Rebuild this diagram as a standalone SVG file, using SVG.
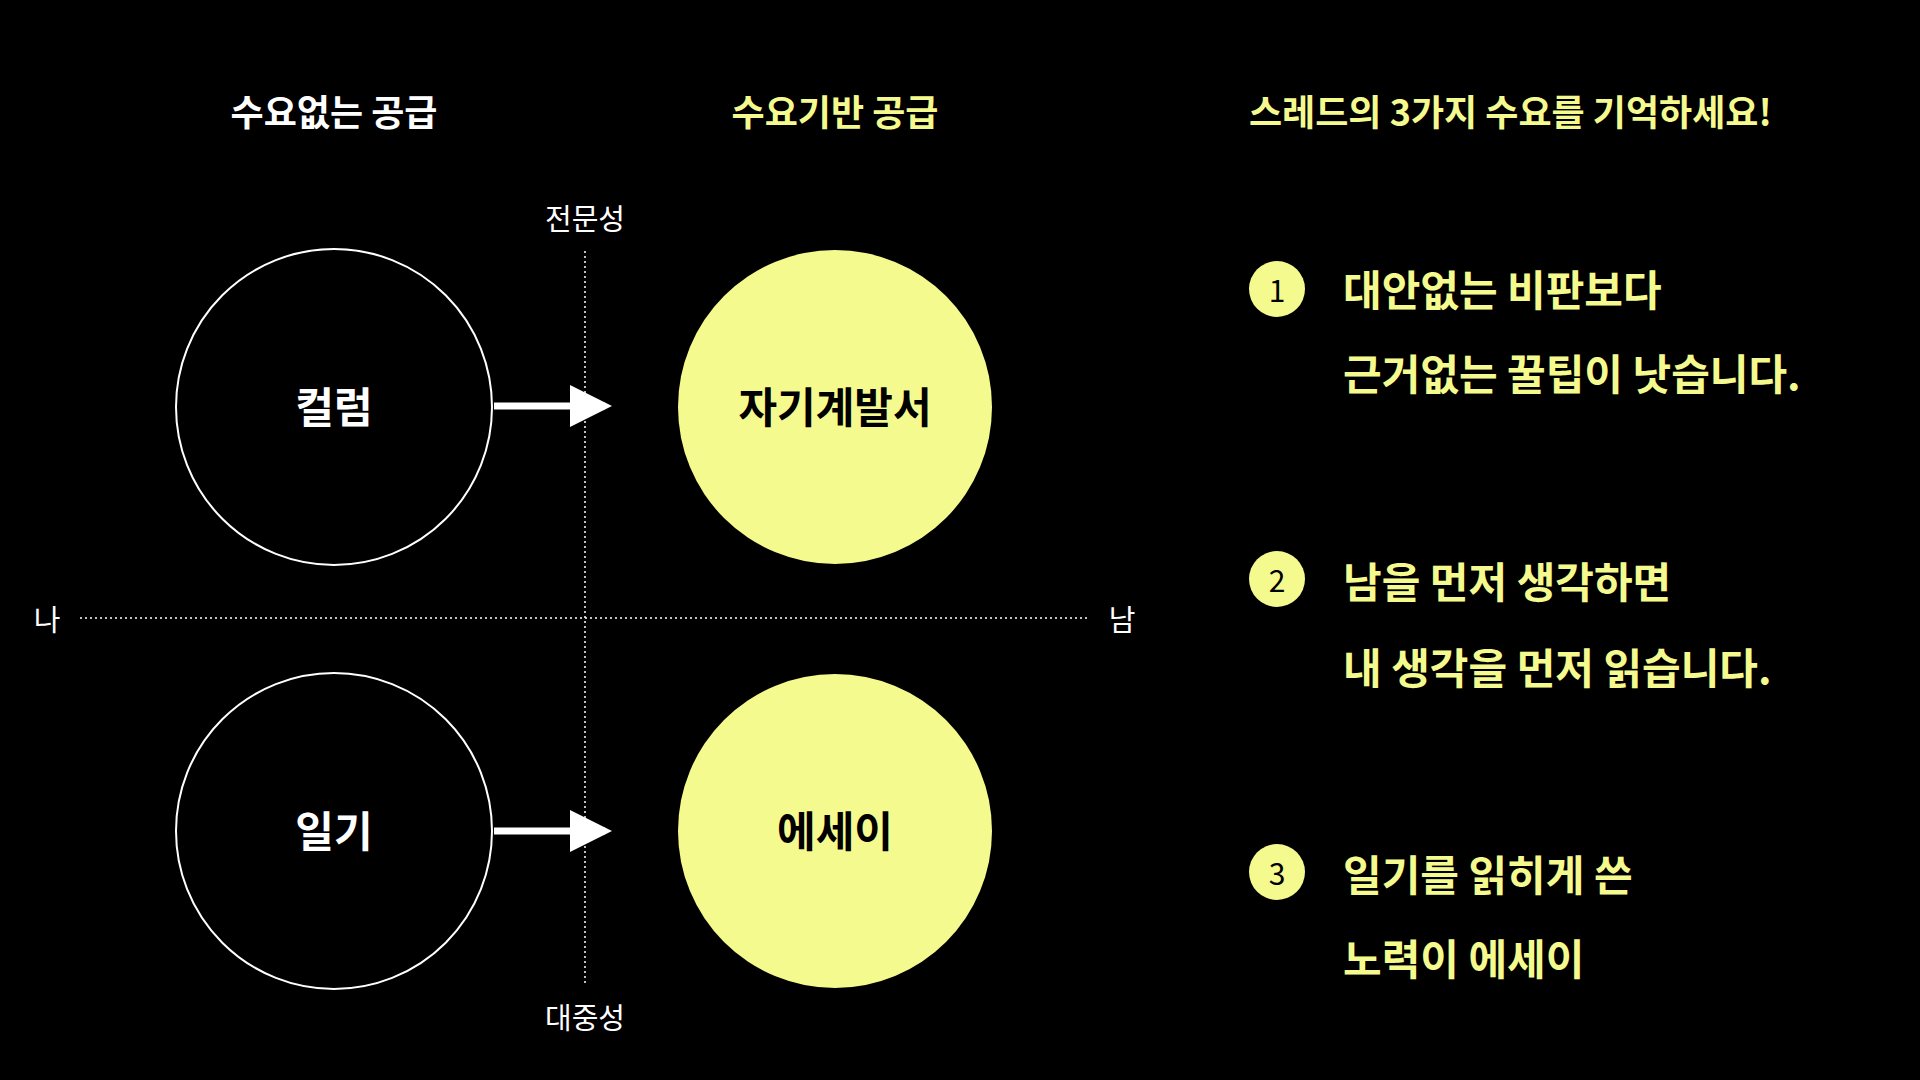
<svg xmlns="http://www.w3.org/2000/svg" width="1920" height="1080" viewBox="0 0 1920 1080">
<defs>
<style>
text{font-family:"Noto Sans CJK KR","Noto Sans",sans-serif;}
.t{font-size:36px;font-weight:700;text-anchor:middle;dominant-baseline:central}
.w{fill:#fff}.y{fill:#F5FA8E}
.ax{font-size:29px;fill:#fff;text-anchor:middle;dominant-baseline:central}
.lbl{font-size:42px;font-weight:700;fill:#000;text-anchor:middle;dominant-baseline:central}
.it{font-size:42px;font-weight:700;fill:#F5FA8E;dominant-baseline:central}
.num{font-size:30px;fill:#000;text-anchor:middle;dominant-baseline:central}
.dot{stroke:#fff;stroke-width:1.5;stroke-dasharray:2 3;fill:none}
</style>
<marker id="ah" markerWidth="6" markerHeight="6" refX="5" refY="3" orient="auto" markerUnits="strokeWidth"><path d="M0,0 L6,3 L0,6 Z" fill="#fff"/></marker>
</defs>
<rect width="1920" height="1080" fill="#000"/>
<text class="t w" x="334" y="110">수요없는 공급</text>
<text class="t y" x="835" y="110">수요기반 공급</text>
<text class="t y" x="1249" y="110" style="text-anchor:start">스레드의 3가지 수요를 기억하세요!</text>
<g id="axes">
<line class="dot" x1="585" y1="251" x2="585" y2="986"/>
<line class="dot" x1="80" y1="618" x2="1090" y2="618"/>
<text class="ax" x="585" y="217">전문성</text>
<text class="ax" x="585" y="1016">대중성</text>
<text class="ax" x="47" y="618">나</text>
<text class="ax" x="1122" y="618">남</text>
</g>
<g id="n1"><circle cx="334" cy="407" r="158" fill="none" stroke="#fff" stroke-width="2"/><text class="lbl" x="334" y="404" style="fill:#fff">컬럼</text></g>
<g id="n2"><circle cx="835" cy="407" r="157" fill="#F5FA8E"/><text class="lbl" x="835" y="404">자기계발서</text></g>
<g id="n3"><circle cx="334" cy="831" r="158" fill="none" stroke="#fff" stroke-width="2"/><text class="lbl" x="334" y="828" style="fill:#fff">일기</text></g>
<g id="n4"><circle cx="835" cy="831" r="157" fill="#F5FA8E"/><text class="lbl" x="835" y="828">에세이</text></g>
<g id="connectors">
<line x1="494" y1="406" x2="605" y2="406" stroke="#fff" stroke-width="7" marker-end="url(#ah)"/>
<line x1="494" y1="831" x2="605" y2="831" stroke="#fff" stroke-width="7" marker-end="url(#ah)"/>
</g>
<g id="i1"><circle cx="1277" cy="289" r="28" fill="#F5FA8E"/><text class="num" x="1277" y="289">1</text>
<text class="it" x="1343" y="287">대안없는 비판보다</text><text class="it" x="1343" y="371">근거없는 꿀팁이 낫습니다.</text></g>
<g id="i2"><circle cx="1277" cy="579" r="28" fill="#F5FA8E"/><text class="num" x="1277" y="579">2</text>
<text class="it" x="1343" y="579">남을 먼저 생각하면</text><text class="it" x="1343" y="665">내 생각을 먼저 읽습니다.</text></g>
<g id="i3"><circle cx="1277" cy="872" r="28" fill="#F5FA8E"/><text class="num" x="1277" y="872">3</text>
<text class="it" x="1343" y="872">일기를 읽히게 쓴</text><text class="it" x="1343" y="956">노력이 에세이</text></g>
</svg>
